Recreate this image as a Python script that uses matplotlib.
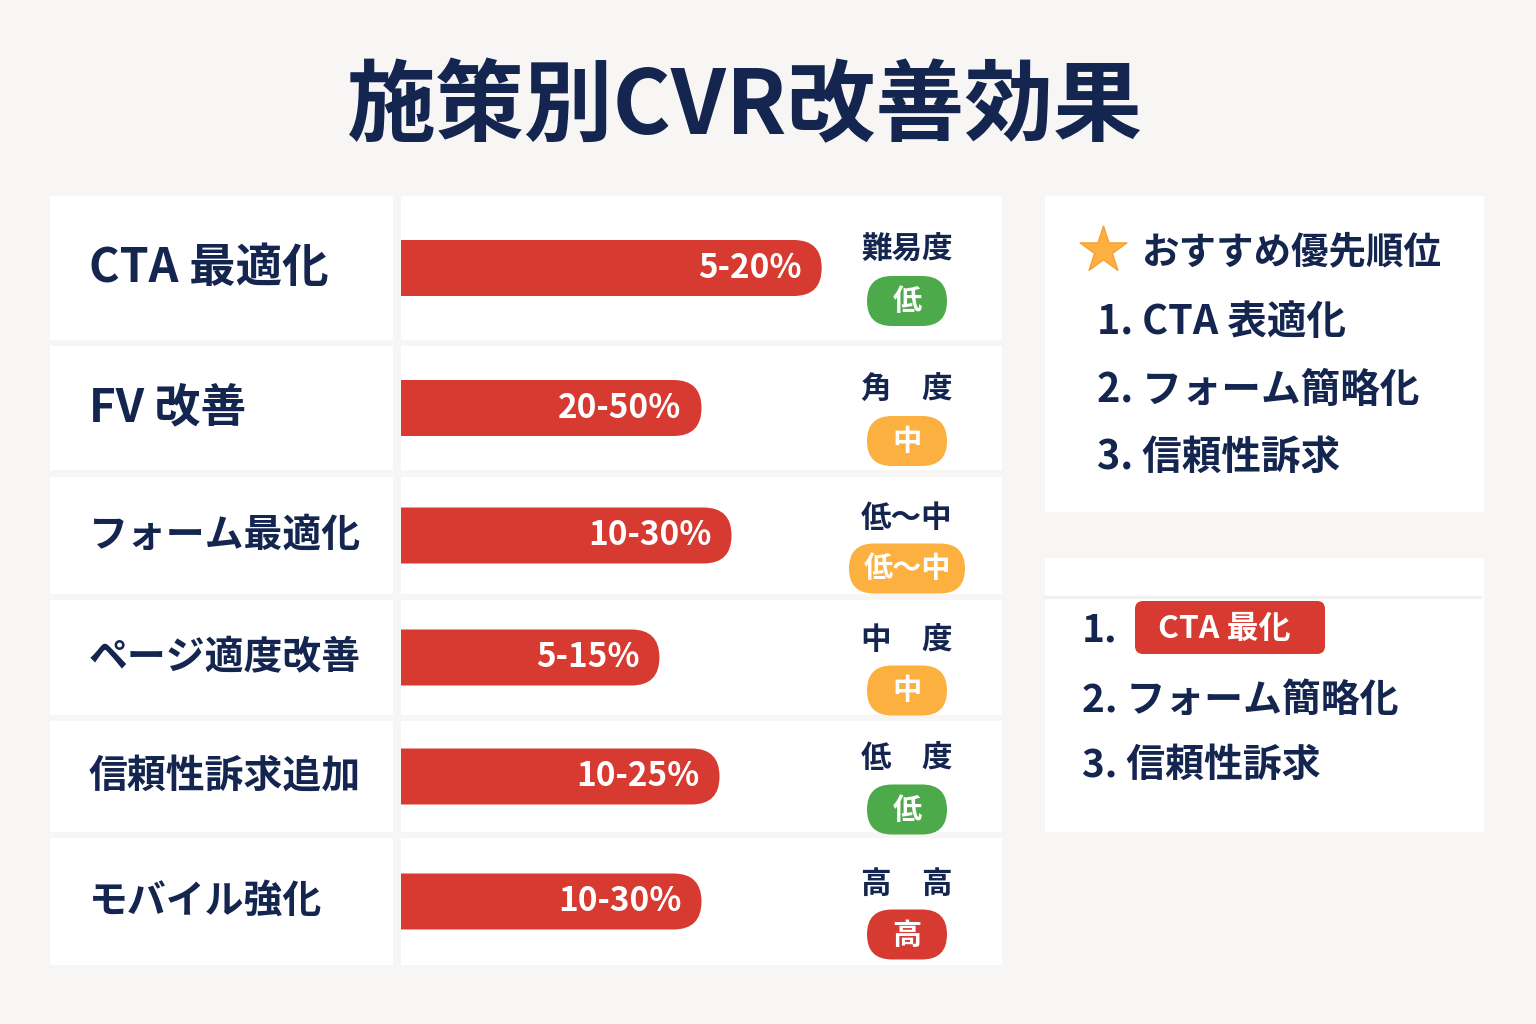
import matplotlib
matplotlib.use("Agg")
import matplotlib.pyplot as plt
from matplotlib.patches import FancyBboxPatch, Rectangle

plt.rcParams['font.family'] = ['Noto Sans CJK JP', 'DejaVu Sans']

# data
categories = ["CTA 最適化", "FV 改善", "フォーム最適化", "ページ適度改善", "信頼性訴求追加", "モバイル強化"]
ranges = ["5-20%", "20-50%", "10-30%", "5-15%", "10-25%", "10-30%"]
bar_len = [70, 50, 55, 43, 53, 50]          # bar length, 0-100 scale of the bar column
diff_head = ["難易度", "角　度", "低〜中", "中　度", "低　度", "高　高"]
diff_level = ["低", "中", "低〜中", "中", "低", "高"]
priority = ["CTA 表適化", "フォーム簡略化", "信頼性訴求"]
priority2 = ["CTA 最化", "フォーム簡略化", "信頼性訴求"]

NAVY = "#14264f"
RED = "#d63a30"
level_col = {"低": "#4caa4a", "中": "#fbb040", "低〜中": "#fbb040", "高": RED}

W, H = 1536, 1024
fig = plt.figure(figsize=(W / 100, H / 100), dpi=100)
fig.patch.set_facecolor("#f7f6f4")

bg = fig.add_axes([0, 0, 1, 1])
bg.set_xlim(0, W)
bg.set_ylim(H, 0)
bg.axis("off")

bg.text(745, 108, "施策別CVR改善効果", ha="center", va="center",
        fontsize=64, fontweight="bold", color=NAVY)

# row layout (pixel bands)
rows = [(196, 340), (346, 470), (477, 594), (600, 715), (721, 832), (838, 965)]
label_fs = [33.5, 33, 28, 28, 28, 28]
col_x0, col_x1 = 401, 1002

for i, (top, bot) in enumerate(rows):
    rh = bot - top
    cy = (top + bot) / 2
    bg.add_patch(Rectangle((50, top), 343, rh, color="white", lw=0))
    bg.add_patch(Rectangle((col_x0, top), col_x1 - col_x0, rh, color="white", lw=0))
    bg.text(89, cy, categories[i], ha="left", va="center",
            fontsize=label_fs[i], fontweight="bold", color=NAVY)

    # difficulty header + pill badge
    bg.text(907, cy - 18, diff_head[i], ha="center", va="center",
            fontsize=22, fontweight="bold", color=NAVY)
    bw = 116 if len(diff_level[i]) > 1 else 80
    bg.add_patch(FancyBboxPatch((907 - bw / 2, cy + 33 - 25), bw, 50,
                                boxstyle="round,pad=0,rounding_size=25",
                                fc=level_col[diff_level[i]], ec="none"))
    bg.text(907, cy + 33, diff_level[i], ha="center", va="center",
            fontsize=21, fontweight="bold", color="white")

    # bar in its own axes, 0-100 scale
    ax = fig.add_axes([col_x0 / W, 1 - bot / H, (col_x1 - col_x0) / W, rh / H])
    ax.set_xlim(0, 100)
    ax.set_ylim(0, 1)
    ax.axis("off")
    ax.patch.set_alpha(0)
    pxu = (col_x1 - col_x0) / 100
    r = 28 / pxu
    bh = 56 / rh
    ax.add_patch(FancyBboxPatch((-20, 0.5 - bh / 2), bar_len[i] + 20, bh,
                                boxstyle=f"round,pad=0,rounding_size={r}",
                                mutation_aspect=pxu / rh, fc=RED, ec="none"))
    ax.text(bar_len[i] - 20 / pxu, 0.5, ranges[i], ha="right", va="center",
            fontsize=24, fontweight="bold", color="white")

# right cards
bg.add_patch(Rectangle((1045, 196), 439, 316, color="white", lw=0))
bg.scatter([1103], [250], marker="*", s=1250, color="#fbb040", edgecolor="#f4a230", lw=1, zorder=3)
bg.text(1142, 252, "おすすめ優先順位", ha="left", va="center",
        fontsize=27, fontweight="bold", color=NAVY)
for k, t in enumerate(priority):
    bg.text(1097, 323 + k * 67, f"{k + 1}. {t}", ha="left", va="center",
            fontsize=28.5, fontweight="bold", color=NAVY)

bg.add_patch(Rectangle((1045, 558), 439, 274, color="white", lw=0))
bg.plot([1045, 1480], [597, 597], color="#f1f0ee", lw=2)
bg.text(1082, 630, "1.", ha="left", va="center", fontsize=28, fontweight="bold", color=NAVY)
bg.add_patch(FancyBboxPatch((1135, 601), 190, 53, boxstyle="round,pad=0,rounding_size=8",
                            fc=RED, ec="none"))
bg.text(1224, 629, priority2[0], ha="center", va="center",
        fontsize=23, fontweight="bold", color="white")
for k, t in enumerate(priority2[1:], start=2):
    bg.text(1082, 700 + (k - 2) * 65, f"{k}. {t}", ha="left", va="center",
            fontsize=28, fontweight="bold", color=NAVY)

fig.savefig("out.png", dpi=100, facecolor=fig.get_facecolor())
